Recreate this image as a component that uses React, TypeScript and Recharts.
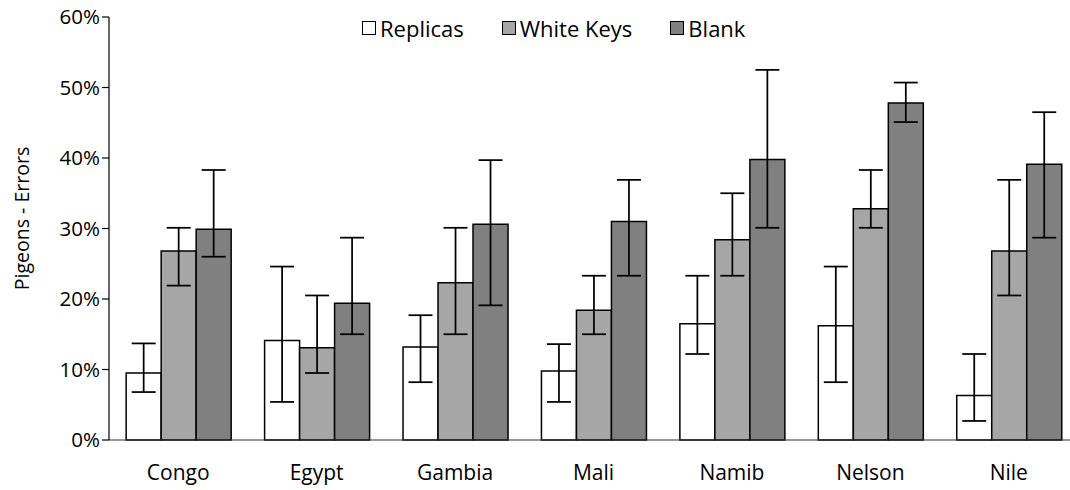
import { Bar, BarChart, ErrorBar, Legend, XAxis, YAxis } from "recharts";

const categories = ["Congo", "Egypt", "Gambia", "Mali", "Namib", "Nelson", "Nile"];

const replicas = [9.5, 14.1, 13.2, 9.8, 16.5, 16.2, 6.3];
const replicasLow = [6.8, 5.4, 8.2, 5.4, 12.2, 8.2, 2.7];
const replicasHigh = [13.7, 24.6, 17.7, 13.6, 23.3, 24.6, 12.2];

const whiteKeys = [26.8, 13.1, 22.3, 18.4, 28.4, 32.8, 26.8];
const whiteKeysLow = [21.9, 9.5, 15.0, 15.0, 23.3, 30.1, 20.5];
const whiteKeysHigh = [30.1, 20.5, 30.1, 23.3, 35.0, 38.3, 36.9];

const blank = [29.9, 19.4, 30.6, 31.0, 39.8, 47.8, 39.1];
const blankLow = [26.0, 15.0, 19.1, 23.3, 30.1, 45.1, 28.7];
const blankHigh = [38.3, 28.7, 39.7, 36.9, 52.5, 50.7, 46.5];

const yTicks = [0, 10, 20, 30, 40, 50, 60];

const seriesNames = ["Replicas", "White Keys", "Blank"];
const seriesColors = ["#ffffff", "#a6a6a6", "#808080"];

const FONT = "'Open Sans', sans-serif";

// error bars are stored as [below, above] distances from the bar value
const data = categories.map((name, i) => ({
  name,
  replicas: replicas[i],
  replicasErr: [replicas[i] - replicasLow[i], replicasHigh[i] - replicas[i]],
  whiteKeys: whiteKeys[i],
  whiteKeysErr: [whiteKeys[i] - whiteKeysLow[i], whiteKeysHigh[i] - whiteKeys[i]],
  blank: blank[i],
  blankErr: [blank[i] - blankLow[i], blankHigh[i] - blank[i]],
}));

const keys = ["replicas", "whiteKeys", "blank"];

function LegendContent() {
  return (
    <div
      style={{
        display: "flex",
        alignItems: "center",
        fontFamily: FONT,
        fontSize: 22,
        color: "#000",
        gap: 38,
        lineHeight: "30px",
      }}
    >
      {seriesNames.map((name, i) => (
        <div key={name} style={{ display: "flex", alignItems: "center" }}>
          <span
            style={{
              display: "inline-block",
              width: 12,
              height: 12,
              border: "1.5px solid #000",
              background: seriesColors[i],
              marginRight: 4,
            }}
          />
          <span>{name}</span>
        </div>
      ))}
    </div>
  );
}

export default function App() {
  return (
    <div
      style={{
        position: "absolute",
        left: 0,
        top: 0,
        width: 1070,
        height: 490,
        overflow: "hidden",
        background: "#fff",
      }}
    >
      <BarChart
        width={1078}
        height={490}
        data={data}
        margin={{ top: 17, right: 0, left: 0, bottom: 0 }}
        barCategoryGap="12.4%"
        barGap={0}
      >
        <XAxis
          dataKey="name"
          height={50}
          tickLine={false}
          tickSize={0}
          tickMargin={25}
          axisLine={{ stroke: "#333", strokeWidth: 1.2 }}
          tick={{ fill: "#000", fontSize: 21, fontFamily: FONT }}
        />
        <YAxis
          width={109}
          domain={[0, 60]}
          ticks={yTicks}
          interval={0}
          tickFormatter={(v) => `${v}%`}
          tickSize={7}
          tickMargin={2}
          axisLine={{ stroke: "#000", strokeWidth: 1.2 }}
          tickLine={{ stroke: "#000", strokeWidth: 1.2 }}
          tick={{ fill: "#000", fontSize: 20.5, fontFamily: FONT }}
          label={{
            value: "Pigeons - Errors",
            angle: -90,
            position: "center",
            dx: -32,
            dy: -10,
            style: { fill: "#000", fontSize: 19.5, fontFamily: FONT },
          }}
        />
        <Legend
          verticalAlign="middle"
          align="center"
          layout="horizontal"
          content={() => <LegendContent />}
          wrapperStyle={{ top: 13, left: 362, width: 480, height: 30 }}
        />
        {keys.map((k, i) => (
          <Bar
            key={k}
            dataKey={k}
            name={seriesNames[i]}
            fill={seriesColors[i]}
            stroke="#000"
            strokeWidth={1.5}
            isAnimationActive={false}
          >
            <ErrorBar
              dataKey={`${k}Err`}
              width={12}
              stroke="#000"
              strokeWidth={1.75}
              direction="y"
            />
          </Bar>
        ))}
      </BarChart>
    </div>
  );
}
